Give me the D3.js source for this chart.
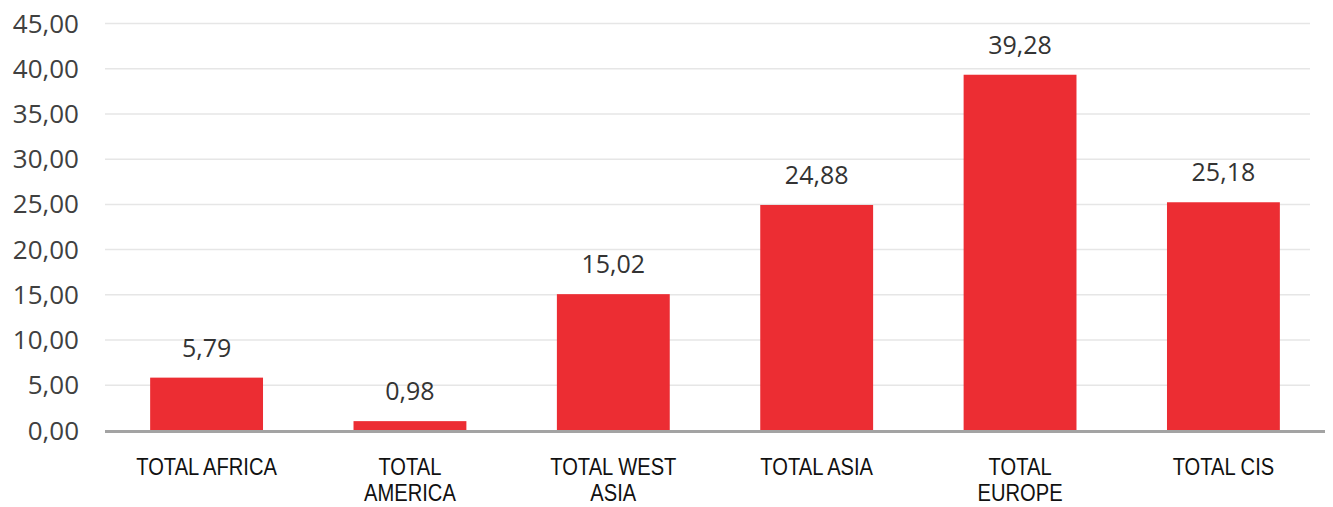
<!DOCTYPE html>
<meta charset="utf-8">
<head>
<style>
body { margin: 0; background: #fff; }
.grid line { stroke: #e6e6e6; stroke-width: 1.5; }
.grid path { display: none; }
.yaxis path, .yaxis line { display: none; }
.yaxis text { font: 26px "Open Sans", "DejaVu Sans", sans-serif; fill: #404040; }
.val { font: 25px "Open Sans", "DejaVu Sans", sans-serif; fill: #333; }
.cat { font: 24px "Liberation Sans", Arial, sans-serif; fill: #111; }
</style>
</head>
<body>
<script src="https://cdnjs.cloudflare.com/ajax/libs/d3/7.8.5/d3.min.js"></script>
<script>

// data
var categories = ["TOTAL AFRICA", "TOTAL AMERICA", "TOTAL WEST ASIA", "TOTAL ASIA", "TOTAL EUROPE", "TOTAL CIS"];
var labelLines = [["TOTAL AFRICA"], ["TOTAL", "AMERICA"], ["TOTAL WEST", "ASIA"], ["TOTAL ASIA"], ["TOTAL", "EUROPE"], ["TOTAL CIS"]];
var values = [5.79, 0.98, 15.02, 24.88, 39.28, 25.18];
var yTicks = [0, 5, 10, 15, 20, 25, 30, 35, 40, 45];

var width = 1333, height = 507;
var mLeft = 105, mRight = 1325, mTop = 23, mBottom = 430;

var fmt = function(v) { return d3.format(".2f")(v).replace(".", ","); };

var svg = d3.select("body").append("svg")
    .attr("width", width)
    .attr("height", height);

var x = d3.scaleBand()
    .domain(categories)
    .range([mLeft, mRight])
    .paddingInner(0.445)
    .paddingOuter(0.222);

var y = d3.scaleLinear()
    .domain([0, 45])
    .range([mBottom, mTop]);

// gridlines
svg.append("g")
    .attr("class", "grid")
    .attr("transform", "translate(" + mLeft + ",0)")
    .call(d3.axisLeft(y).tickValues(yTicks.slice(1)).tickSize(-(1310 - mLeft)).tickFormat(""));

// y axis labels
svg.append("g")
    .attr("class", "yaxis")
    .attr("transform", "translate(79,0)")
    .call(d3.axisLeft(y).tickValues(yTicks).tickSize(0).tickPadding(0).tickFormat(fmt))
    .selectAll("text").attr("dy", "0.35em");

// bars
svg.selectAll(".bar")
    .data(values)
    .enter().append("rect")
    .attr("class", "bar")
    .attr("x", function(d, i) { return x(categories[i]); })
    .attr("width", x.bandwidth())
    .attr("y", function(d) { return y(d); })
    .attr("height", function(d) { return y(0) - y(d); })
    .style("fill", "#ec2d33");

// x axis line
svg.append("line")
    .attr("x1", mLeft).attr("x2", mRight)
    .attr("y1", y(0) + 1.5).attr("y2", y(0) + 1.5)
    .style("stroke", "#a3a3a3")
    .style("stroke-width", 3);

// value labels
svg.selectAll(".val")
    .data(values)
    .enter().append("text")
    .attr("class", "val")
    .attr("text-anchor", "middle")
    .attr("x", function(d, i) { return x(categories[i]) + x.bandwidth() / 2; })
    .attr("y", function(d) { return y(d) - 21; })
    .text(fmt);

// category labels, a bit condensed like the original
var cat = svg.selectAll(".catg")
    .data(categories)
    .enter().append("g")
    .attr("class", "catg")
    .attr("transform", function(d) { return "translate(" + (x(d) + x.bandwidth() / 2) + ",0) scale(0.84,1)"; });

cat.each(function(d, i) {
    var g = d3.select(this);
    labelLines[i].forEach(function(line, j) {
        g.append("text")
            .attr("class", "cat")
            .attr("text-anchor", "middle")
            .attr("y", 475 + j * 26)
            .text(line);
    });
});

</script>
</body>
